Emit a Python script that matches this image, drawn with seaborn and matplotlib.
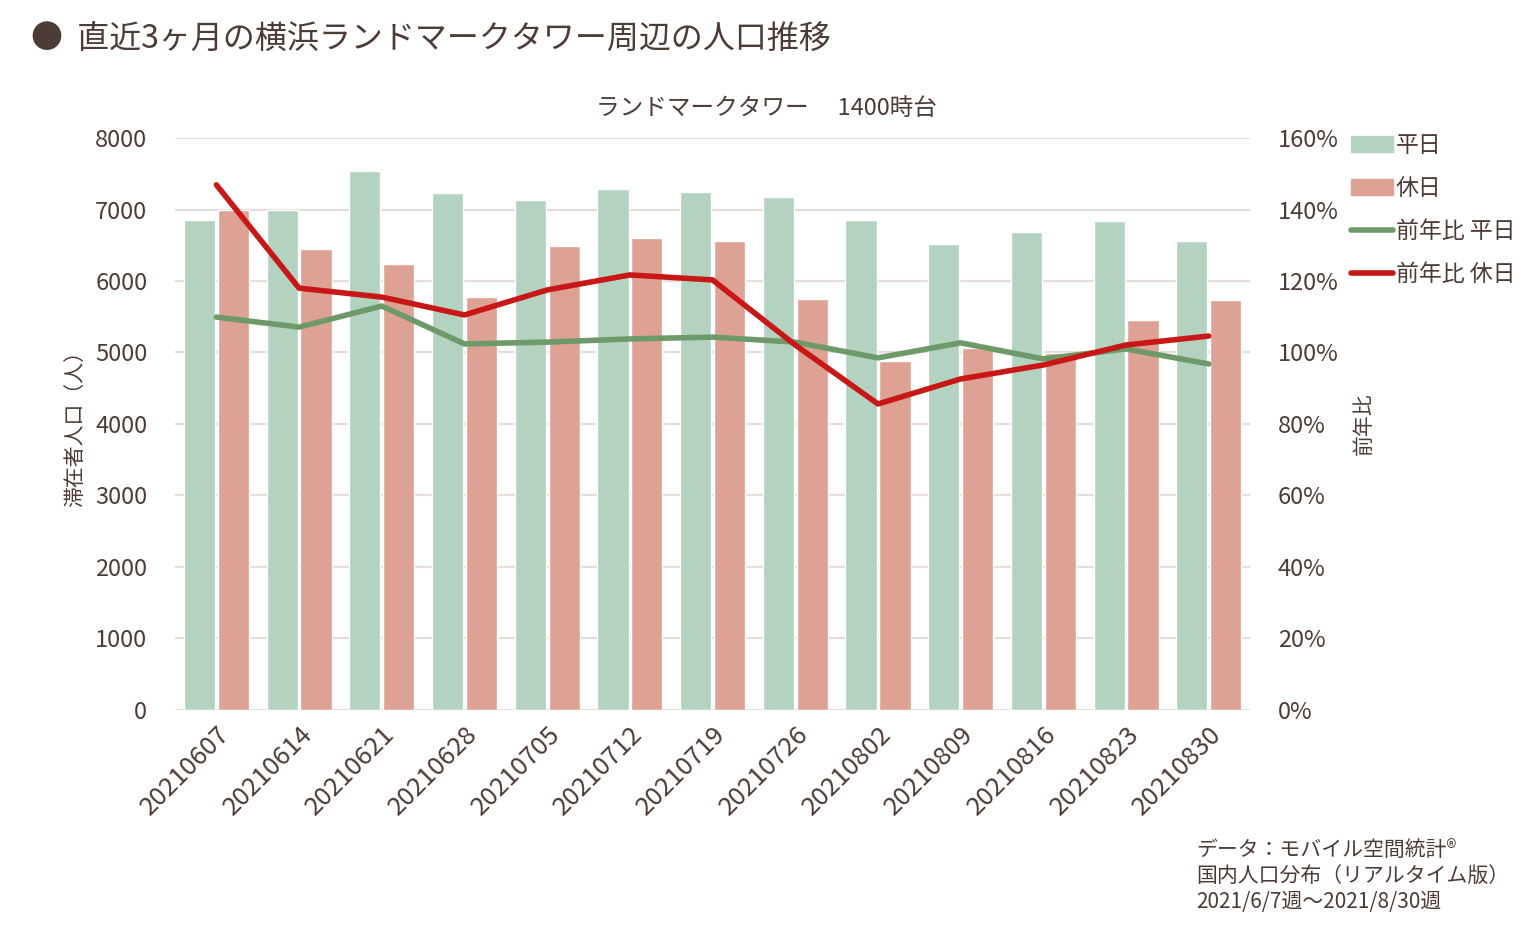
import numpy as np
import pandas as pd
import matplotlib
matplotlib.use('Agg')
import matplotlib.pyplot as plt
import seaborn as sns
from matplotlib.patches import Patch
from matplotlib.lines import Line2D

# data
weeks = ['20210607', '20210614', '20210621', '20210628', '20210705', '20210712', '20210719',
         '20210726', '20210802', '20210809', '20210816', '20210823', '20210830']
weekday_pop = [6850, 7000, 7540, 7230, 7130, 7290, 7245, 7175, 6850, 6520, 6690, 6840, 6560]
holiday_pop = [7000, 6450, 6240, 5780, 6490, 6600, 6560, 5750, 4880, 5060, 4990, 5450, 5730]
yoy_weekday = [109.9, 107.1, 113.0, 102.4, 102.9, 103.8, 104.3, 102.9, 98.5, 102.7, 98.2, 101.0, 96.8]
yoy_holiday = [146.9, 118.0, 115.5, 110.5, 117.5, 121.7, 120.3, 102.1, 85.6, 92.6, 96.5, 102.1, 104.6]

TEXT = '#4D3B35'
GREEN_BAR = '#B4D2C0'
RED_BAR = '#DDA293'
GREEN_LINE = '#6E9A69'
RED_LINE = '#C81717'

sns.set_theme(style='white')
plt.rcParams['font.family'] = ['Noto Sans CJK JP', 'DejaVu Sans']
plt.rcParams['text.color'] = TEXT
plt.rcParams['axes.labelcolor'] = TEXT
plt.rcParams['xtick.color'] = TEXT
plt.rcParams['ytick.color'] = TEXT

bars = pd.DataFrame({
    'week': weeks * 2,
    'pop': weekday_pop + holiday_pop,
    'kind': ['平日'] * len(weeks) + ['休日'] * len(weeks),
})

fig = plt.figure(figsize=(15.26, 9.3), dpi=100)
ax = fig.add_axes([0.1147, 0.2366, 0.7045, 0.615])

sns.barplot(data=bars, x='week', y='pop', hue='kind', order=weeks,
            palette={'平日': GREEN_BAR, '休日': RED_BAR}, width=0.82, gap=0.08,
            saturation=1, legend=False, ax=ax)
ax.set_ylim(0, 8000)
ax.set_xlim(-0.5, len(weeks) - 0.5)
ax.set_yticks(range(0, 8001, 1000))
ax.grid(axis='y', color='#E6DDDB', linewidth=1.6)
ax.set_axisbelow(True)
for s in ax.spines.values():
    s.set_visible(False)
ax.set_xlabel('')
ax.set_ylabel('滞在者人口（人）', fontsize=15, labelpad=6)
ax.tick_params(axis='y', labelsize=17, length=0, pad=20)
ax.tick_params(axis='x', labelsize=18.5, length=0, pad=8)
plt.setp(ax.get_xticklabels(), rotation=45, ha='right', rotation_mode='anchor')

ax2 = ax.twinx()
pos = np.arange(len(weeks))
sns.lineplot(x=pos, y=yoy_weekday, color=GREEN_LINE, linewidth=4, ax=ax2,
             solid_capstyle='round')
sns.lineplot(x=pos, y=yoy_holiday, color=RED_LINE, linewidth=4, ax=ax2,
             solid_capstyle='round')
ax2.set_ylim(0, 160)
ax2.set_yticks(range(0, 161, 20))
ax2.set_yticklabels([f'{v}%' for v in range(0, 161, 20)])
ax2.tick_params(axis='y', labelsize=17, length=0, pad=20)
ax2.set_ylabel('前年比', fontsize=15, labelpad=10)
ax2.grid(False)
for s in ax2.spines.values():
    s.set_visible(False)
ax2.set_xlim(-0.5, len(weeks) - 0.5)

handles = [Patch(color=GREEN_BAR), Patch(color=RED_BAR),
           Line2D([], [], color=GREEN_LINE, linewidth=4, solid_capstyle='round'),
           Line2D([], [], color=RED_LINE, linewidth=4, solid_capstyle='round')]
labels = ['平日', '休日', '前年比 平日', '前年比 休日']
fig.legend(handles, labels, loc='upper left', bbox_to_anchor=(0.879, 0.866),
           frameon=False, fontsize=16.5, handlelength=1.85, handleheight=0.7,
           handletextpad=0.12, labelspacing=0.88, borderaxespad=0)

fig.text(0.02, 0.958, '●  直近3ヶ月の横浜ランドマークタワー周辺の人口推移', fontsize=23,
         va='center', ha='left')
fig.text(0.502, 0.883, 'ランドマークタワー　 1400時台', fontsize=17, ha='center', va='center')
fig.text(0.784, 0.018, 'データ：モバイル空間統計®\n国内人口分布（リアルタイム版）\n2021/6/7週～2021/8/30週',
         fontsize=15, ha='left', va='bottom', linespacing=1.25)

fig.savefig('out.png', dpi=100)
